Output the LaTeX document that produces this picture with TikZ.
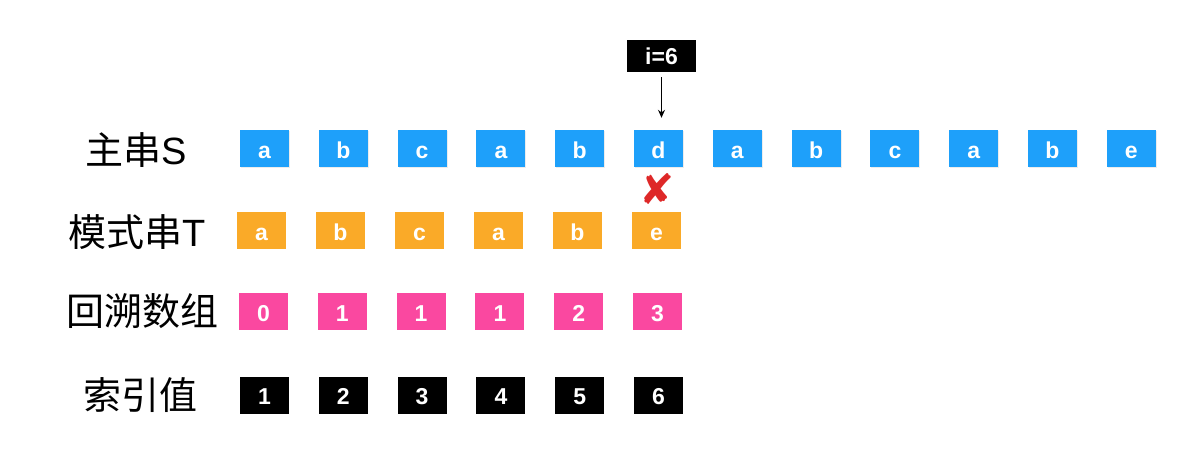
\documentclass[tikz,border=0pt]{standalone}
\usepackage{fontspec}
\setmainfont{Liberation Sans}
\newfontfamily\cjk{Noto Sans CJK SC}
\newfontfamily\dejavu{DejaVu Sans}
\usetikzlibrary{shadows,arrows.meta}
\definecolor{sblue}{RGB}{30,160,250}
\definecolor{torange}{RGB}{250,170,40}
\definecolor{ppink}{RGB}{250,72,160}
\definecolor{xred}{RGB}{222,40,40}
\tikzset{
  cell/.style={minimum width=49pt,minimum height=37pt,inner sep=0pt,text=white,
    text height=19.6pt,text depth=0pt,
    font=\fontsize{23}{23}\selectfont\bfseries},
  scell/.style={cell,fill=sblue,drop shadow={shadow xshift=1pt,shadow yshift=-1.5pt,opacity=0.15}},
  tcell/.style={cell,fill=torange},
  pcell/.style={cell,fill=ppink},
  kcell/.style={cell,fill=black},
  rowlabel/.style={inner sep=0pt,font=\cjk\fontsize{38}{40}\selectfont},
}
\begin{document}
\begin{tikzpicture}[x=1pt,y=1pt]
\useasboundingbox (0,0) rectangle (1196,464);
% row labels
\node[rowlabel] (lS) at (136.5,314) {主串{\rmfamily S}};
\node[rowlabel] (lT) at (137,232) {模式串{\rmfamily T}};
\node[rowlabel] (lP) at (142.5,153) {回溯数组};
\node[rowlabel] (lK) at (140,69) {索引值};
% main string S
\foreach \c [count=\k from 0] in {a,b,c,a,b,d,a,b,c,a,b,e}{
  \pgfmathsetmacro{\xx}{264.5+78.8*\k}
  \node[scell] (s\k) at (\xx,315.5) {\c};
}
% pattern T
\foreach \c [count=\k from 0] in {a,b,c,a,b,e}{
  \pgfmathsetmacro{\xx}{261.5+79*\k}
  \node[tcell] (t\k) at (\xx,233.5) {\c};
}
% backtrack array
\foreach \c [count=\k from 0] in {0,1,1,1,2,3}{
  \pgfmathsetmacro{\xx}{263.5+78.8*\k}
  \node[pcell] (p\k) at (\xx,152.5) {\c};
}
% index values
\foreach \c [count=\k from 0] in {1,2,3,4,5,6}{
  \pgfmathsetmacro{\xx}{264.5+78.8*\k}
  \node[kcell] (k\k) at (\xx,69) {\c};
}
% pointer i=6
\node[kcell,minimum width=69pt,minimum height=32pt,text height=17.5pt] (ip) at (661.5,408) {i=6};
\draw[-{Stealth[length=8pt,width=7pt]},line width=1.1pt,shorten <=5pt,shorten >=12pt] (ip.south) -- (ip.south |- s5.north);
% mismatch cross
\node[inner sep=0pt,text=xred,font=\dejavu\fontsize{42}{42}\selectfont] (x) at (657,275.5) {✘};
\end{tikzpicture}
\end{document}
